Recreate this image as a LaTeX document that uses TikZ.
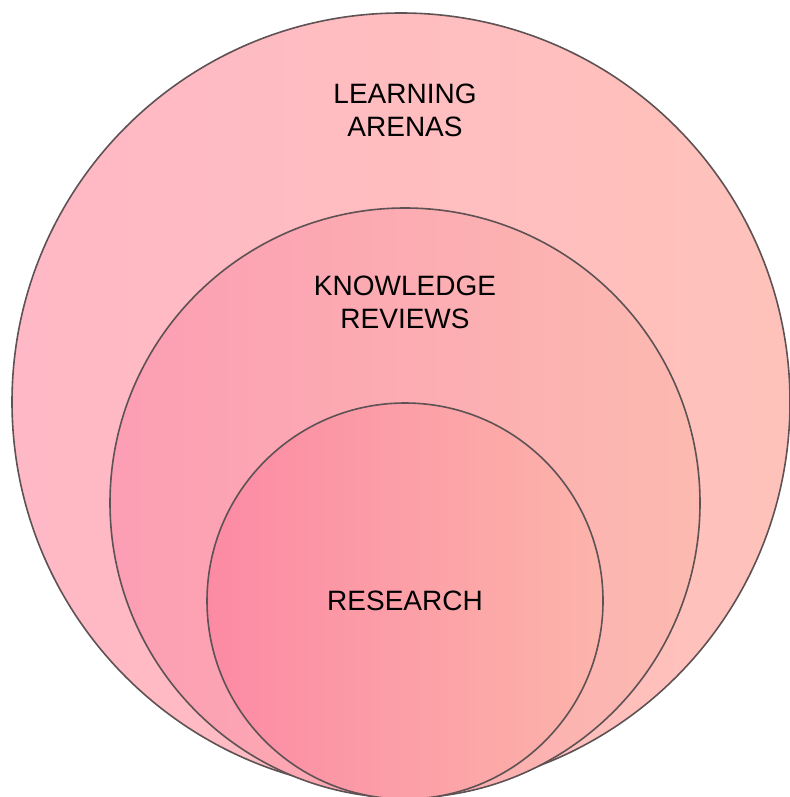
\documentclass[tikz,border=0pt]{standalone}
\usepackage{fontspec}
\setmainfont{Liberation Sans}
\begin{document}
\begin{tikzpicture}[x=0.5pt,y=-0.5pt,
  ring/.style={circle,draw={rgb,255:red,95;green,82;blue,84},line width=0.8pt,inner sep=0pt},
  label/.style={align=center,font=\fontsize{14}{16.5}\selectfont,text=black}]
\useasboundingbox (0,0) rectangle (790,797);
\node[ring,minimum size=389pt,left color={rgb,255:red,255;green,184;blue,198},right color={rgb,255:red,255;green,194;blue,186}] (outer) at (401,402) {};
\node[ring,minimum size=295pt,left color={rgb,255:red,252;green,158;blue,180},right color={rgb,255:red,252;green,186;blue,176}] (middle) at (405,503) {};
\node[ring,minimum size=198pt,left color={rgb,255:red,252;green,138;blue,164},right color={rgb,255:red,252;green,180;blue,170}] (inner) at (405,601) {};
\node[label] (la) at (405,110) {LEARNING\\ARENAS};
\node[label] (kr) at (405,302) {KNOWLEDGE\\REVIEWS};
\node[label] (rs) at (405,601) {RESEARCH};
\end{tikzpicture}
\end{document}
